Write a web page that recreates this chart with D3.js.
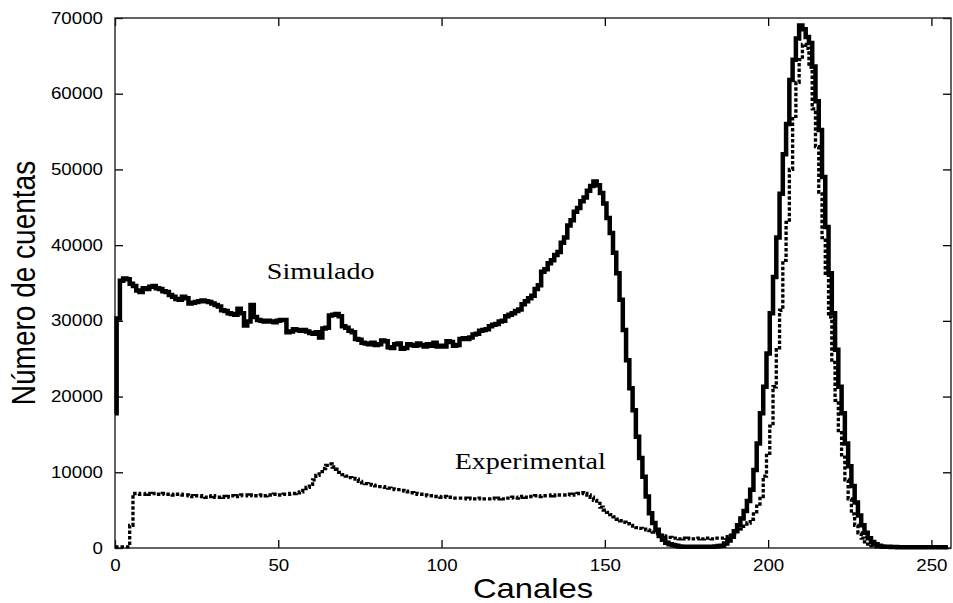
<!DOCTYPE html>
<html>
<head>
<meta charset="utf-8">
<script src="https://cdn.jsdelivr.net/npm/d3@7"></script>
<style>
  html, body { margin: 0; padding: 0; background: #fff; }
  svg { display: block; }
</style>
</head>
<body>
<div class="container"><svg width="953" height="603"></svg></div>
<script>
// canales 0..255
var canales = d3.range(256);

// espectro simulado (linea continua)
var simulado = [
  17800, 30300, 35300, 35600, 35500, 34900, 34600, 34000, 33800, 34300,
  34200, 34500, 34600, 34300, 34200, 33900, 33800, 33400, 33200, 32900,
  32800, 33200, 33000, 32300, 32400, 32500, 32600, 32700, 32600, 32500,
  32300, 32100, 31900, 31400, 31300, 31000, 30900, 30800, 31600, 31000,
  29400, 29900, 32100, 30500, 30100, 30000, 29900, 30000, 29900, 29800,
  30000, 30100, 30100, 28500, 28600, 28900, 28800, 28700, 28800, 28600,
  28400, 28300, 28500, 27800, 29000, 29100, 30700, 30800, 30900, 30600,
  29300, 29100, 28700, 28500, 27600, 27500, 27100, 27000, 26900, 27100,
  26800, 26900, 27400, 27300, 26500, 26400, 26900, 27000, 26300, 26400,
  26900, 26800, 26700, 27000, 26800, 26600, 26900, 26700, 27100, 26600,
  26700, 26600, 27300, 27200, 26700, 26800, 27600, 27700, 27600, 27800,
  28200, 28300, 28700, 28800, 28900, 29300, 29500, 29600, 29900, 30000,
  30600, 30800, 31000, 31300, 31500, 32200, 32600, 33000, 33300, 34200,
  34700, 36500, 36800, 37600, 38000, 38700, 39100, 40300, 41000, 42600,
  43300, 44400, 44900, 45800, 46300, 47200, 47800, 48400, 47900, 46900,
  45500, 43600, 41600, 39000, 36300, 32800, 28800, 24800, 21100, 18200,
  14700, 11900, 9400, 6800, 4600, 3300, 2400, 1600, 1100, 700,
  500, 400, 300, 200, 150, 150, 150, 150, 150, 150,
  150, 150, 150, 150, 200, 250, 300, 600, 1000, 1500,
  2200, 3000, 3900, 4900, 6200, 7700, 10300, 13800, 17800, 21300,
  25700, 31000, 35800, 41000, 46800, 52000, 56000, 61800, 64500, 67300,
  69000, 68500, 67500, 66700, 63600, 59000, 55200, 49000, 42400, 36300,
  31000, 26200, 21300, 17800, 13800, 10800, 8200, 6000, 4300, 3000,
  2000, 1300, 800, 500, 300, 200, 150, 150, 120, 120,
  100, 100, 100, 100, 100, 100, 100, 100, 100, 100,
  100, 100, 100, 100, 100, 100
];

// espectro experimental (linea punteada)
var experimental = [
  150, 150, 150, 150, 150, 3000, 7200, 7200, 7100, 7100,
  7200, 7100, 7200, 7100, 7100, 7200, 7100, 7100, 7000, 7100,
  7100, 7000, 7000, 6900, 6800, 6900, 6900, 6800, 6700, 6800,
  6900, 6700, 6700, 6800, 6700, 6800, 6900, 6800, 6900, 7000,
  7000, 6900, 7000, 6900, 6900, 7000, 6900, 7000, 7000, 7100,
  7000, 7000, 7100, 7100, 7200, 7200, 7300, 7400, 7600, 8000,
  8400, 9000, 9600, 10100, 10500, 10900, 11100, 10700, 10400, 10000,
  9700, 9500, 9300, 9200, 9100, 8800, 8600, 8500, 8400, 8300,
  8200, 8100, 8100, 8000, 7900, 7800, 7700, 7700, 7600, 7500,
  7400, 7300, 7200, 7100, 7100, 7000, 6900, 6900, 6800, 6800,
  6700, 6800, 6700, 6700, 6600, 6600, 6600, 6600, 6500, 6600,
  6500, 6500, 6600, 6500, 6500, 6500, 6600, 6500, 6600, 6500,
  6600, 6600, 6700, 6600, 6700, 6800, 6700, 6800, 6800, 6900,
  6800, 6900, 6900, 6900, 7000, 6900, 7000, 7000, 7000, 7100,
  7000, 7100, 7200, 7300, 7200, 7000, 6700, 6300, 5900, 5400,
  5000, 4700, 4400, 4100, 3800, 3600, 3400, 3200, 3000, 2900,
  2700, 2600, 2500, 2400, 2300, 2100, 1900, 1700, 1600, 1500,
  1400, 1300, 1300, 1200, 1300, 1200, 1300, 1200, 1200, 1300,
  1200, 1300, 1300, 1200, 1300, 1300, 1300, 1400, 1500, 1700,
  1900, 2200, 2500, 2900, 3300, 3800, 4500, 5800, 6800, 9500,
  12500, 16100, 21300, 26200, 31400, 38000, 43000, 50000, 57000, 61500,
  64500, 66500, 66000, 63500, 58000, 53000, 47000, 41000, 36000, 30500,
  24500, 19500, 15500, 12000, 9000, 6500, 4500, 3000, 2000, 1300,
  800, 500, 300, 150, 150, 120, 120, 100, 100, 100,
  100, 100, 100, 100, 100, 100, 100, 100, 100, 100,
  100, 100, 100, 100, 100, 100
];

var xTicks = [0, 50, 100, 150, 200, 250];
var yTicks = [0, 10000, 20000, 30000, 40000, 50000, 60000, 70000];

var etiquetas = [
  { texto: 'Simulado', ch: 46.5, v: 35500 },
  { texto: 'Experimental', ch: 104, v: 10500 }
];

var margen = { izq: 115, der: 951, sup: 18, inf: 548 };
var stretchX = 1.17;   // el original esta algo estirado en horizontal

var svg = d3.select('.container svg');

var x = d3.scaleLinear().domain([0, 256]).range([margen.izq, margen.der]);
var y = d3.scaleLinear().domain([0, 70000]).range([margen.inf, margen.sup]);

// ensancha el texto horizontalmente, como en la figura original
function ensanchar(sel) {
  sel.each(function() {
    var w = this.getComputedTextLength();
    d3.select(this)
      .attr('textLength', w * stretchX)
      .attr('lengthAdjust', 'spacingAndGlyphs');
  });
}

// ejes con marcas hacia dentro
var axB = svg.append('g')
  .attr('transform', 'translate(0,' + margen.inf + ')')
  .call(d3.axisBottom(x).tickValues(xTicks).tickSize(-8).tickPadding(12));
var axT = svg.append('g')
  .attr('transform', 'translate(0,' + margen.sup + ')')
  .call(d3.axisTop(x).tickValues(xTicks).tickSize(-8).tickFormat(''));
var axL = svg.append('g')
  .attr('transform', 'translate(' + margen.izq + ',0)')
  .call(d3.axisLeft(y).tickValues(yTicks).tickSize(-8).tickPadding(12).tickFormat(d3.format('d')));
var axR = svg.append('g')
  .attr('transform', 'translate(' + margen.der + ',0)')
  .call(d3.axisRight(y).tickValues(yTicks).tickSize(-8).tickFormat(''));

[axB, axT, axL, axR].forEach(function(a) {
  a.select('.domain').remove();
  a.selectAll('line').attr('stroke', '#000').attr('stroke-width', 1.3);
  a.selectAll('text')
    .attr('font-family', 'Liberation Sans, Arial, sans-serif')
    .attr('font-size', 16)
    .attr('fill', '#000');
});
axB.selectAll('text').call(ensanchar);
axL.selectAll('text').call(ensanchar);

// marco
svg.append('rect')
  .attr('x', margen.izq)
  .attr('y', margen.sup)
  .attr('width', margen.der - margen.izq)
  .attr('height', margen.inf - margen.sup)
  .attr('fill', 'none')
  .attr('stroke', '#222')
  .attr('stroke-width', 1.4);

// histogramas
var linea = d3.line()
  .x(function(d) { return x(d.ch); })
  .y(function(d) { return y(d.v); })
  .curve(d3.curveStep);

var datosSim = canales.map(function(c, i) { return { ch: c, v: simulado[i] }; });
var datosExp = canales.map(function(c, i) { return { ch: c, v: experimental[i] }; });

svg.append('path')
  .datum(datosExp)
  .attr('d', linea)
  .attr('fill', 'none')
  .attr('stroke', '#000')
  .attr('stroke-width', 3.3)
  .attr('stroke-dasharray', '3.5,2')
  .attr('stroke-linejoin', 'miter');

svg.append('path')
  .datum(datosSim)
  .attr('d', linea)
  .attr('fill', 'none')
  .attr('stroke', '#000')
  .attr('stroke-width', 4.5)
  .attr('stroke-linejoin', 'miter');

// etiquetas de las curvas
svg.selectAll('.etiqueta')
  .data(etiquetas)
  .enter()
  .append('text')
  .classed('etiqueta', true)
  .attr('x', function(d) { return x(d.ch); })
  .attr('y', function(d) { return y(d.v); })
  .attr('font-family', 'Liberation Serif, Times New Roman, serif')
  .attr('font-size', 24)
  .attr('fill', '#000')
  .text(function(d) { return d.texto; })
  .call(ensanchar);

// titulos de los ejes
svg.append('text')
  .attr('x', (margen.izq + margen.der) / 2)
  .attr('y', 598)
  .attr('text-anchor', 'middle')
  .attr('font-family', 'Liberation Sans, Arial, sans-serif')
  .attr('font-size', 28)
  .text('Canales')
  .call(ensanchar);

svg.append('text')
  .attr('transform', 'translate(35,' + (margen.sup + margen.inf) / 2 + ') scale(' + stretchX + ',1) rotate(-90)')
  .attr('text-anchor', 'middle')
  .attr('font-family', 'Liberation Sans, Arial, sans-serif')
  .attr('font-size', 28)
  .text('Número de cuentas');
</script>
</body>
</html>
